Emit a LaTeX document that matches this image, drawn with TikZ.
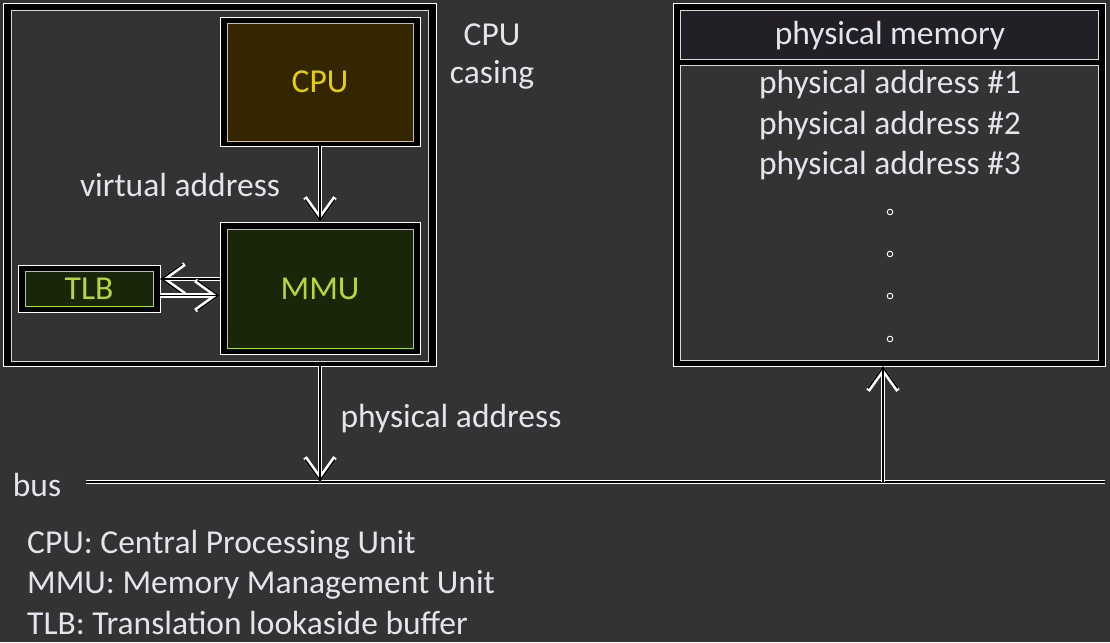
\documentclass[tikz,border=0pt]{standalone}
\usepackage{fontspec}
\setmainfont{Carlito}
\usetikzlibrary{arrows.meta}
\definecolor{bg}{HTML}{333333}
\definecolor{hdr}{HTML}{221F26}
\definecolor{cpuline}{HTML}{E6D000}
\definecolor{cpufill}{HTML}{332600}
\definecolor{mmuline}{HTML}{B4D83A}
\definecolor{mmufill}{HTML}{1A2609}
\definecolor{txt}{HTML}{E4E4EC}
\tikzset{
  frame/.style={draw=white, line width=0.9pt, fill=black, inner sep=0pt, outer sep=0pt},
  panel/.style={draw=white!85!black, line width=0.9pt, fill=bg, inner sep=0pt},
  cpubox/.style={draw=cpuline, line width=0.9pt, fill=cpufill, text=cpuline, inner sep=0pt},
  mmubox/.style={draw=mmuline, line width=0.9pt, fill=mmufill, text=mmuline, inner sep=0pt},
  lbl/.style={text=txt, inner sep=0pt},
  arr/.style={black, line width=1.6pt, -{Straight Barb[length=21pt, width=30pt]},
    preaction={draw=white, line width=4.2pt, -{Straight Barb[length=21pt, width=30pt]}}},
  wline/.style={black, line width=1.6pt, preaction={draw=white, line width=4.2pt}},
}
\begin{document}
\begin{tikzpicture}[x=1pt, y=-1pt, font=\fontsize{33.5}{38}\selectfont]
\fill[bg] (0,0) rectangle (1110,642);
\useasboundingbox (0,0) rectangle (1110,642);
% CPU casing
\node[frame, minimum width=433pt, minimum height=363pt] (caso) at (219.5,184.5) {};
\node[panel, minimum width=417pt, minimum height=351pt] (casi) at (219.5,185.5) {};
% CPU
\node[frame, minimum width=200pt, minimum height=129pt] (cpuo) at (320,81.5) {};
\node[cpubox, minimum width=186pt, minimum height=118pt] (cpu) at (320,82) {CPU};
% MMU
\node[frame, minimum width=200pt, minimum height=132pt] (mmuo) at (320,288) {};
\node[mmubox, minimum width=186pt, minimum height=119pt] (mmu) at (320,288.5) {MMU};
% TLB
\node[frame, minimum width=142pt, minimum height=47pt] (tlbo) at (89,288.5) {};
\node[mmubox, minimum width=128pt, minimum height=35pt] (tlb) at (89,288.5) {TLB};
% physical memory
\node[frame, minimum width=432pt, minimum height=363pt] (memo) at (889,184.5) {};
\node[panel, fill=hdr, minimum width=418pt, minimum height=49pt] (memh) at (889,34.5) {};
\node[panel, minimum width=418pt, minimum height=295pt] (memc) at (889,212.5) {};
\node[lbl] (memt) at (890,36) {physical memory};
\node[lbl] (pa1) at (890,85) {physical address \#1};
\node[lbl] (pa2) at (890,126) {physical address \#2};
\node[lbl] (pa3) at (890,166) {physical address \#3};
\foreach \y in {212,254,296,339}
  \draw[white, line width=0.9pt, fill=bg] (890,\y) circle (2.8pt);
% labels
\node[lbl] (va) at (180,185) {virtual address};
\node[lbl, align=center, font=\fontsize{33.5}{38}\selectfont] (cas) at (492,57) {CPU\\casing};
\node[lbl] (pad) at (451,419) {physical address};
\node[lbl] (busl) at (37,485) {bus};
% bus
\coordinate (busL) at (86,482);
\coordinate (busR) at (1105,482);
\coordinate (busM) at (883,482);
\draw[wline] (busL) -- (busR);
% connectors
\draw[arr] (cpuo.south) -- (mmuo.north);
\draw[arr] ([yshift=9pt]mmuo.west) -- ([yshift=9pt]mmuo.west -| tlbo.east);
\draw[arr] ([yshift=-7pt]tlbo.east) -- ([yshift=-7pt]tlbo.east -| mmuo.west);
\draw[arr] (cpuo.south |- caso.south) -- (cpuo.south |- busL);
\draw[arr] (busM) -- (busM |- memo.south);
% legend
\node[lbl, anchor=west] (lg1) at (27,545) {CPU: Central Processing Unit};
\node[lbl, anchor=west] (lg2) at (27,585) {MMU: Memory Management Unit};
\node[lbl, anchor=west] (lg3) at (27,623) {TLB: Translation lookaside buffer};
\end{tikzpicture}
\end{document}
